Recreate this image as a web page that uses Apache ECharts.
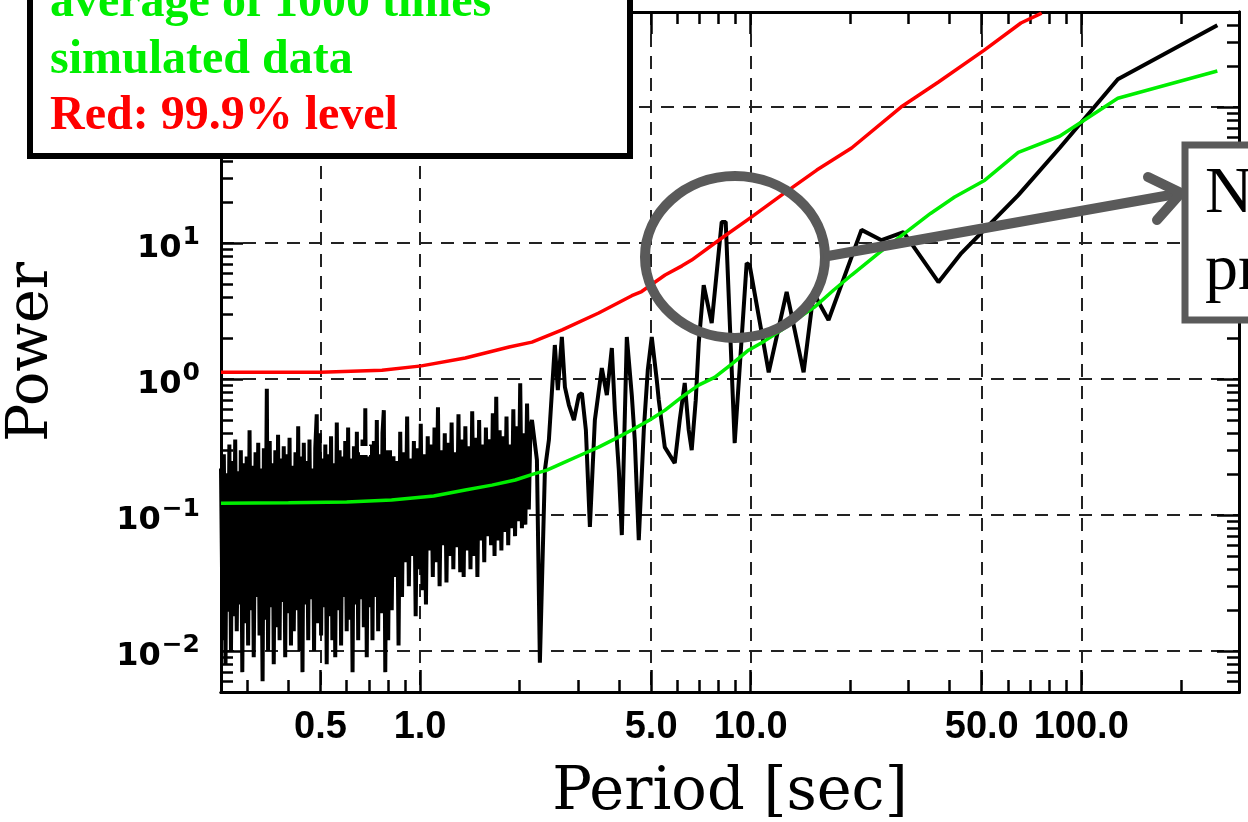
<!DOCTYPE html>
<html><head><meta charset="utf-8">
<script src="https://cdn.jsdelivr.net/npm/echarts@6/dist/echarts.min.js"></script>
<style>html,body{margin:0;padding:0;background:#fff}#c{width:1248px;height:822px}</style>
</head><body><div id="c"></div>
<script>
const periodA = [0.250,0.253,0.255,0.258,0.260,0.263,0.265,0.268,0.271,0.273,
0.276,0.279,0.282,0.285,0.287,0.290,0.293,0.296,0.299,0.302,
0.305,0.308,0.311,0.314,0.318,0.321,0.324,0.327,0.330,0.334,
0.337,0.340,0.344,0.347,0.351,0.354,0.358,0.361,0.365,0.369,
0.372,0.376,0.380,0.384,0.387,0.391,0.395,0.399,0.403,0.407,
0.411,0.415,0.420,0.424,0.428,0.432,0.437,0.441,0.445,0.450,
0.454,0.459,0.463,0.468,0.473,0.478,0.482,0.487,0.492,0.497,
0.502,0.507,0.512,0.517,0.522,0.527,0.533,0.538,0.543,0.549,
0.554,0.560,0.566,0.571,0.577,0.583,0.588,0.594,0.600,0.606,
0.612,0.618,0.625,0.631,0.637,0.644,0.650,0.656,0.663,0.670,
0.676,0.683,0.690,0.697,0.704,0.711,0.718,0.725,0.732,0.740,
0.747,0.755,0.762,0.770,0.777,0.785,0.793,0.801];
const powerA = [0.22,0.012,0.28,0.008,0.20,0.020,0.33,0.010,0.25,0.018,
0.36,0.014,0.21,0.022,0.30,0.007,0.24,0.016,0.27,0.011,
0.42,0.020,0.23,0.009,0.29,0.025,0.34,0.013,0.22,0.006,
0.31,0.017,0.85,0.010,0.35,0.021,0.24,0.008,0.30,0.015,
0.39,0.012,0.26,0.023,0.32,0.009,0.28,0.019,0.37,0.011,
0.23,0.014,0.29,0.020,0.45,0.010,0.27,0.007,0.34,0.022,
0.25,0.012,0.36,0.024,0.22,0.010,0.31,0.55,0.016,0.40,
0.013,0.26,0.021,0.33,0.008,0.28,0.018,0.38,0.012,0.24,
0.009,0.48,0.020,0.30,0.011,0.27,0.025,0.35,0.014,0.44,
0.017,0.26,0.007,0.32,0.022,0.41,0.012,0.29,0.024,0.36,
0.015,0.61,0.009,0.27,0.021,0.33,0.012,0.35,0.025,0.50,
0.014,0.28,0.019,0.40,0.59,0.007,0.30,0.012];
const periodB = [0.811,0.821,0.831,0.841,0.851,0.861,0.871,0.882,0.892,0.903,
0.914,0.925,0.936,0.947,0.958,0.970,0.982,0.993,1.005,1.017,
1.030,1.042,1.055,1.067,1.080,1.093,1.106,1.119,1.133,1.146,
1.160,1.174,1.188,1.202,1.217,1.231,1.246,1.261,1.276,1.292,
1.307,1.323,1.339,1.355,1.371,1.388,1.404,1.421,1.438,1.456,
1.473,1.491,1.509,1.527,1.545,1.564,1.582,1.601,1.621,1.640,
1.660,1.680,1.700,1.720,1.741,1.762,1.783,1.804,1.826,1.848,
1.870,1.893,1.915,1.938,1.962,1.985,2.009,2.033,2.058,2.082,
2.107,2.133,2.158];
const powerB = [0.30,0.020,0.27,0.035,0.25,0.011,0.41,0.025,0.29,0.045,
0.53,0.030,0.26,0.050,0.35,0.018,0.31,0.040,0.47,0.028,
0.28,0.022,0.38,0.055,0.33,0.035,0.44,0.045,0.62,0.030,
0.30,0.060,0.40,0.032,0.34,0.050,0.48,0.040,0.29,0.058,
0.55,0.038,0.36,0.035,0.45,0.055,0.32,0.040,0.58,0.050,
0.37,0.035,0.50,0.065,0.33,0.045,0.44,0.070,0.36,0.060,
0.56,0.050,0.74,0.065,0.42,0.055,0.38,0.075,0.53,0.060,
0.33,0.080,0.60,0.070,0.45,0.090,0.93,0.080,0.40,0.085,
0.66,0.11,0.45];
const periodC = [2.18,2.257,2.304,2.386,2.453,2.557,2.611,2.685,2.743,2.820,
2.920,3.023,3.087,3.174,3.264,3.379,3.547,3.673,3.803,3.883,
3.993,4.077,4.221,4.370,4.462,4.588,4.751,4.885,5.022,5.200,
5.273,5.498,5.692,5.894,6.102,6.318,6.496,6.633,6.822,6.966,
7.211,7.624,8.174,8.405,8.948,9.725,9.931,11.34,12.85,14.46,
15.5,17.2,21.64,24.88,28.99,36.98,43.4,64.5,86,129,258];
const powerC = [0.50,0.254,0.0082,0.214,0.356,1.78,0.83,2.04,0.873,0.644,
0.50,0.762,0.788,0.422,0.0817,0.50,1.205,0.762,1.69,0.592,
0.214,0.0713,2.04,0.762,0.356,0.0655,0.422,1.164,2.04,0.984,
0.702,0.316,0.276,0.241,0.50,0.935,0.422,0.30,0.70,1.84,
4.91,2.58,14.3,14.3,0.338,7.13,6.89,1.12,4.37,1.12,
4.3,2.72,12.5,10.5,12.05,5.16,8.44,22.5,50,160,400];

// ---- Green: average of 1000 simulated spectra ----
const greenPeriod = [0.25,0.40,0.60,0.82,1.10,1.37,1.65,1.94,2.20,2.42,2.74,3.10,3.47,3.90,4.37,4.95,5.51,6.20,6.96,7.78,8.80,9.85,11.0,12.4,13.9,15.6,17.8,20.2,24.5,29.2,35.0,41.4,51.1,64.5,86,129,258];
const greenPower  = [0.122,0.123,0.125,0.129,0.138,0.153,0.166,0.181,0.200,0.214,0.245,0.28,0.316,0.365,0.422,0.50,0.591,0.74,0.903,1.03,1.30,1.63,1.90,2.29,2.80,3.38,4.5,5.82,8.5,11.8,16.5,21.8,29.0,46.5,61,116,184];

// ---- Red: 99.9% level ----
const redPeriod = [0.25,0.50,0.767,1.01,1.37,1.86,2.18,2.69,3.47,4.37,4.68,5.51,6.20,6.63,8.18,10.05,12.4,15.85,20.2,28.5,37.0,50.9,65.7,75.9];
const redPower  = [1.12,1.12,1.16,1.25,1.43,1.72,1.87,2.30,3.06,4.10,4.40,5.82,6.8,7.50,10.9,15.5,22.5,34.4,50,100,153,262,415,491];

// ---- Axis ticks ----
const xMajor = [0.5,1,5,10,50,100];
const xMinor = [0.3,0.4,0.6,0.7,0.8,0.9,2,3,4,6,7,8,9,20,30,40,60,70,80,90,200];
const yMajor = [0.01,0.1,1,10,100];
const yMinor = [0.006,0.007,0.008,0.009,0.02,0.03,0.04,0.05,0.06,0.07,0.08,0.09,0.2,0.3,0.4,0.5,0.6,0.7,0.8,0.9,2,3,4,5,6,7,8,9,20,30,40,50,60,70,80,90,200,300,400];

const pairs = (p, v) => p.map((x, i) => [x, v[i]]);
const blackData = pairs(periodA, powerA).concat(pairs(periodB, powerB), pairs(periodC, powerC));

const TICK = {color:'#000', width:2.5};
function xAxisDef(pos, vals, len, extra) {
  return Object.assign({
    type:'log', logBase:10, min:0.25, max:300, position:pos,
    axisLine:{show:true, onZero:false, lineStyle:{color:'#000', width:3}},
    axisTick:{show:true, inside:true, length:len, customValues:vals, lineStyle:TICK},
    axisLabel:{show:false}, splitLine:{show:false}, minorTick:{show:false}
  }, extra || {});
}
function yAxisDef(pos, vals, len, extra) {
  return Object.assign({
    type:'log', logBase:10, min:0.005, max:500, position:pos,
    axisLine:{show:true, onZero:false, lineStyle:{color:'#000', width:3}},
    axisTick:{show:true, inside:true, length:len, customValues:vals, lineStyle:TICK},
    axisLabel:{show:false}, splitLine:{show:false}, minorTick:{show:false}
  }, extra || {});
}
const dashed = {show:true, lineStyle:{color:'#222', width:2, type:[13,9]}};

const chart = echarts.init(document.getElementById('c'), null, {renderer:'canvas'});
chart.setOption({
  animation:false,
  backgroundColor:'#fff',
  grid:{left:221, right:9, top:12, bottom:130, containLabel:false, outerBoundsMode:'none'},
  xAxis:[
    xAxisDef('bottom', xMajor, 22, {
      axisLabel:{show:true, customValues:xMajor, margin:17, formatter:v => Number(v).toFixed(1),
        fontFamily:'Liberation Sans', fontWeight:'bold', fontSize:38, color:'#000'},
      splitLine:dashed,
      name:'Period [sec]', nameLocation:'middle', nameGap:72,
      nameTextStyle:{fontFamily:'DejaVu Serif', fontSize:59, color:'#000'}
    }),
    xAxisDef('bottom', xMinor, 12),
    xAxisDef('top', xMajor, 22),
    xAxisDef('top', xMinor, 12)
  ],
  yAxis:[
    yAxisDef('left', yMajor, 22, {
      axisLabel:{show:true, customValues:yMajor, margin:21,
        formatter:v => { const e = Math.round(Math.log10(v)); return '{b|10}{s|' + (e < 0 ? '\u2212' + (-e) : e) + '}'; },
        rich:{ b:{fontFamily:'DejaVu Sans', fontWeight:'bold', fontSize:32, color:'#000', padding:[12,0,0,0]},
               s:{fontFamily:'DejaVu Sans', fontWeight:'bold', fontSize:25, color:'#000', padding:[0,0,12,1]} }},
      splitLine:dashed,
      name:'Power', nameLocation:'middle', nameGap:160,
      nameTextStyle:{fontFamily:'DejaVu Serif', fontSize:57, color:'#000'}
    }),
    yAxisDef('left', yMinor, 12),
    yAxisDef('right', yMajor, 22),
    yAxisDef('right', yMinor, 12)
  ],
  series:[
    {type:'line', data:blackData, xAxisIndex:0, yAxisIndex:0, showSymbol:false, symbol:'none',
     lineStyle:{color:'#000', width:4}, z:3},
    {type:'line', data:pairs(greenPeriod, greenPower), xAxisIndex:0, yAxisIndex:0, showSymbol:false, symbol:'none',
     lineStyle:{color:'#00ee00', width:3.5}, z:4},
    {type:'line', data:pairs(redPeriod, redPower), xAxisIndex:0, yAxisIndex:0, showSymbol:false, symbol:'none',
     lineStyle:{color:'#ff0000', width:3.5}, z:5}
  ],
  graphic:{elements:[
    {type:'rect', z:60, shape:{x:360, y:446, width:10, height:9}, style:{fill:'#fff'}},
    {type:'rect', z:100, shape:{x:30, y:-20, width:600, height:176}, style:{fill:'#fff', stroke:'#000', lineWidth:6}},
    {type:'text', z:101, x:50, y:4, style:{text:'average of 1000 times', fill:'#00ee00', font:'bold 48px "Liberation Serif"', align:'left', verticalAlign:'middle'}},
    {type:'text', z:101, x:50, y:61, style:{text:'simulated data', fill:'#00ee00', font:'bold 48px "Liberation Serif"', align:'left', verticalAlign:'middle'}},
    {type:'text', z:101, x:50, y:117, style:{text:'Red: 99.9% level', fill:'#ff0000', font:'bold 48px "Liberation Serif"', align:'left', verticalAlign:'middle'}},
    {type:'ellipse', z:100, shape:{cx:735, cy:257, rx:90, ry:81}, style:{fill:'none', stroke:'#5a5a5a', lineWidth:10}},
    {type:'line', z:100, shape:{x1:828, y1:256, x2:1176, y2:194}, style:{stroke:'#5a5a5a', lineWidth:10, lineCap:'round'}},
    {type:'polyline', z:100, shape:{points:[[1148,177],[1181,193],[1157,220]]}, style:{stroke:'#5a5a5a', fill:'none', lineWidth:10, lineCap:'round', lineJoin:'round'}},
    {type:'rect', z:100, shape:{x:1185, y:145, width:100, height:175}, style:{fill:'#fff', stroke:'#5a5a5a', lineWidth:7}},
    {type:'text', z:101, x:1205, y:195, style:{text:'N', fill:'#000', font:'66px "Liberation Serif"', align:'left', verticalAlign:'middle'}},
    {type:'text', z:101, x:1205, y:272, style:{text:'pr', fill:'#000', font:'66px "Liberation Serif"', align:'left', verticalAlign:'middle'}}
  ]}
});
</script></body></html>
